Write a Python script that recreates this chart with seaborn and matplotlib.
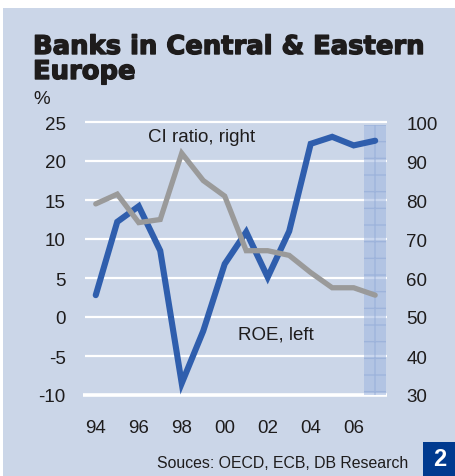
import matplotlib
matplotlib.use("Agg")
import matplotlib.pyplot as plt
import matplotlib.patches as mpatches
import matplotlib.patheffects as pe
import seaborn as sns
import pandas as pd

# Data
years = [1994, 1995, 1996, 1997, 1998, 1999, 2000, 2001, 2002, 2003, 2004, 2005, 2006, 2007]
roe = [2.8, 12.2, 14.2, 8.5, -8.5, -1.8, 6.8, 10.9, 5.1, 11.0, 22.2, 23.1, 22.0, 22.6]
ci_ratio = [79.0, 81.5, 74.2, 75.0, 92.0, 85.0, 81.0, 67.0, 67.0, 65.8, 61.4, 57.5, 57.5, 55.6]
tick_years = [1994, 1996, 1998, 2000, 2002, 2004, 2006]
tick_labels = ["94", "96", "98", "00", "02", "04", "06"]
left_ticks = [-10, -5, 0, 5, 10, 15, 20, 25]
right_ticks = [30, 40, 50, 60, 70, 80, 90, 100]

df = pd.DataFrame({"year": years, "roe": roe, "ci": ci_ratio})

BG = "#CBD6E8"
BLUE = "#2F5EAD"
GREY = "#9A9A9A"
NAVY = "#003A8F"
TXT = "#1E1C1C"

sns.set_theme(style="white")
plt.rcParams["font.family"] = ["Liberation Sans", "DejaVu Sans"]

W, H = 456, 477
fig = plt.figure(figsize=(W / 100, H / 100), dpi=100, facecolor="white")

# Background panel
fig.patches.append(mpatches.Rectangle((3 / W, 0), 1 - 3 / W, 1 - 9 / H,
                                      transform=fig.transFigure, facecolor=BG,
                                      edgecolor="none", zorder=-5))

ax = fig.add_axes([85 / W, (H - 396) / H, 302 / W, 273 / H])
ax.set_facecolor("none")
for s in ax.spines.values():
    s.set_visible(False)

ax.set_xlim(1993.5, 2007.55)
ax.set_ylim(-10, 25)

# White horizontal gridlines
for v in left_ticks:
    if v == -10:
        ax.plot([1993.43, 2007.55], [v, v], color="white", lw=2.6,
                clip_on=False, zorder=1, solid_capstyle="butt")
    else:
        ax.plot([1993.5, 2007.55], [v, v], color="white", lw=1.6,
                clip_on=False, zorder=1, solid_capstyle="butt")

# Shaded forecast year
ax.axvspan(2006.5, 2007.5, ymin=0, ymax=0.99, facecolor="#9FB6E0",
           alpha=0.55, edgecolor="#8FA8D6", hatch="+", lw=0, zorder=2)

sns.lineplot(data=df, x="year", y="roe", ax=ax, color=BLUE, lw=4.4,
             solid_capstyle="round", solid_joinstyle="miter", zorder=3)

ax.set_xticks(tick_years)
ax.set_xticklabels(tick_labels)
ax.set_yticks(left_ticks)
ax.set_yticklabels([str(v) for v in left_ticks])
ax.tick_params(axis="both", length=0, labelsize=13.5, colors=TXT)
ax.tick_params(axis="x", pad=17)
ax.tick_params(axis="y", pad=14)
ax.set_xlabel("")
ax.set_ylabel("")

ax2 = ax.twinx()
for s in ax2.spines.values():
    s.set_visible(False)
ax2.set_ylim(30, 100)
sns.lineplot(data=df, x="year", y="ci", ax=ax2, color=GREY, lw=3.8,
             solid_capstyle="round", solid_joinstyle="miter", zorder=3)
ax2.set_yticks(right_ticks)
ax2.set_yticklabels([str(v) for v in right_ticks])
ax2.tick_params(axis="y", length=0, labelsize=13.5, colors=TXT, pad=14)
ax2.set_ylabel("")
ax2.set_xlim(1993.5, 2007.55)

# Series labels
ax.text(1998.93, 23.1, "CI ratio, right", fontsize=13.5, color=TXT,
        ha="center", va="center")
ax.text(2002.4, -2.2, "ROE, left", fontsize=13.5, color=TXT,
        ha="center", va="center")

# Title and unit
title_kw = dict(fontsize=18.6, fontweight="bold", color=TXT, ha="left",
                va="baseline", family=["DejaVu Sans"],
                path_effects=[pe.withStroke(linewidth=1.0, foreground=TXT)])
fig.text(33 / W, 1 - 55 / H, "Banks in Central & Eastern", **title_kw)
fig.text(33 / W, 1 - 80 / H, "Europe", **title_kw)
fig.text(33 / W, 1 - 104 / H, "%", fontsize=13.5, color=TXT,
         ha="left", va="baseline")

# Source and chart number
fig.text(408 / W, 1 - 468 / H, "Souces: OECD, ECB, DB Research",
         fontsize=11.4, color=TXT, ha="right", va="baseline")
fig.patches.append(mpatches.Rectangle((423 / W, 0), 33 / W, 34 / H,
                                      transform=fig.transFigure,
                                      facecolor=NAVY, edgecolor="none"))
fig.text(439.5 / W, 17 / H, "2", fontsize=17, fontweight="bold",
         color="white", ha="center", va="center")

fig.savefig("out.png", dpi=100, facecolor="white")
